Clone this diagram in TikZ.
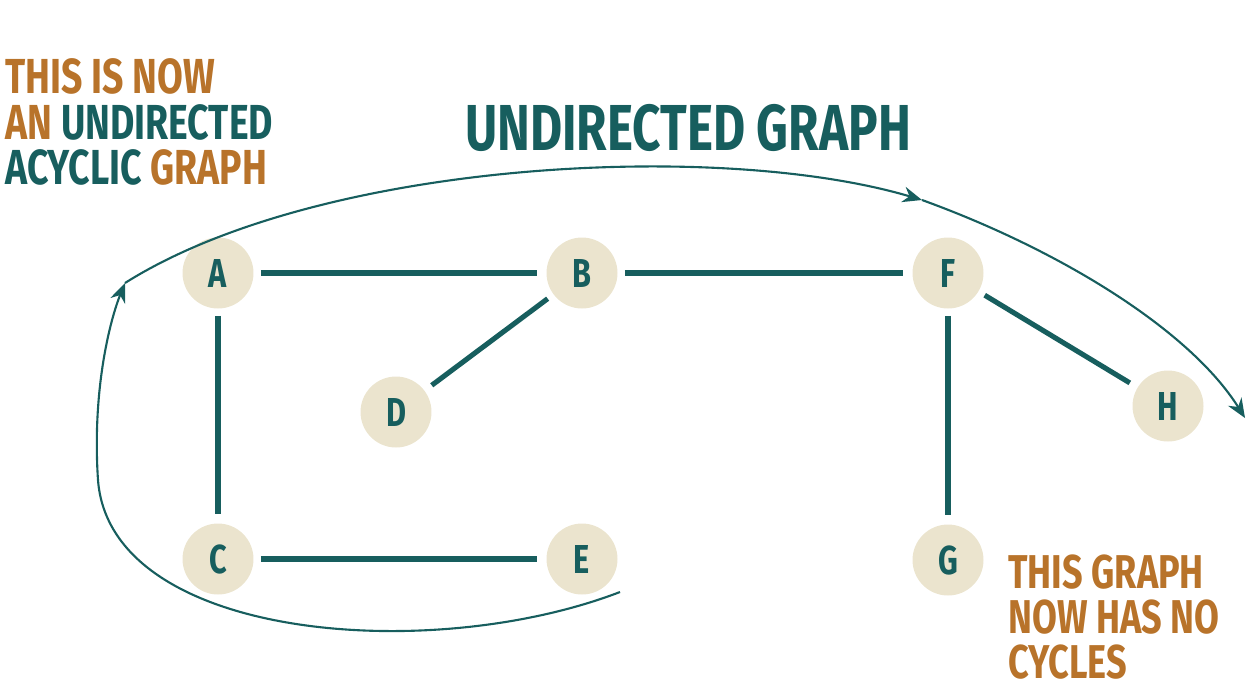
\documentclass[tikz,border=0pt]{standalone}
\usepackage{fontspec}
\newfontfamily\handfont[FakeStretch=0.76]{Fira Sans}
\usetikzlibrary{arrows.meta}
\definecolor{teal}{HTML}{175E5E}
\definecolor{rust}{HTML}{B8732A}
\definecolor{sand}{HTML}{EBE4CE}
\begin{document}
\begin{tikzpicture}[
    x=0.02cm, y=-0.02cm,
    vertex/.style={
      circle, fill=sand, minimum size=1.42cm, inner sep=0pt,
      text=teal, font=\handfont\bfseries\fontsize{23}{23}\selectfont
    },
    edge/.style={teal, line width=2.9pt, shorten <=4pt, shorten >=5pt},
    sweep/.style={teal, line width=1.2pt, -{Stealth[length=11pt,width=9pt]}},
    note/.style={anchor=base west, inner sep=0pt,
      font=\handfont\bfseries\fontsize{28}{28}\selectfont},
    sidenote/.style={note, text=rust,
      font=\handfont\bfseries\fontsize{27}{27}\selectfont},
]
\useasboundingbox (0,0) rectangle (1260,691);

% ===== TITLE =====
\node[text=teal, inner sep=0pt, font=\handfont\bfseries\fontsize{37}{37}\selectfont]
  (title) at (688,128) {UNDIRECTED GRAPH};

% ===== NOTES =====
\node[note, text=rust] (leftA) at (5,93) {THIS IS NOW};
\node[note] (leftB) at (5,139) {\textcolor{rust}{AN} \textcolor{teal}{UNDIRECTED}};
\node[note] (leftC) at (5,184) {\textcolor{teal}{ACYCLIC} \textcolor{rust}{GRAPH}};
\node[sidenote] (rightA) at (1008,588) {THIS GRAPH};
\node[sidenote] (rightB) at (1008,633) {NOW HAS NO};
\node[sidenote] (rightC) at (1008,678) {CYCLES};

% ===== VERTICES =====
\node[vertex] (A) at (218,273) {A};
\node[vertex] (B) at (582,273) {B};
\node[vertex] (F) at (948,273) {F};
\node[vertex] (D) at (396,412) {D};
\node[vertex] (H) at (1168,406) {H};
\node[vertex] (C) at (218,559) {C};
\node[vertex] (E) at (582,559) {E};
\node[vertex] (G) at (948,560) {G};

% ===== EDGES =====
\draw[edge] (A) -- (B);
\draw[edge] (B) -- (F);
\draw[edge] (B) -- (D);
\draw[edge] (F) -- (H);
\draw[edge] (F) -- (G);
\draw[edge] (A) -- (C);
\draw[edge] (C) -- (E);

% ===== SWEEP ARROW (around the graph) =====
\coordinate (s0) at (620,592);
\coordinate (s1) at (125,283);
\coordinate (s2) at (922,200);
\coordinate (s3) at (1245,418);
\draw[sweep] (s0) .. controls (430,665) and (110,640) .. (98,480)
  .. controls (92,390) and (110,320) .. (s1);
\draw[sweep] (s1) .. controls (320,160) and (720,140) .. (s2);
\draw[sweep] (s2) .. controls (1060,250) and (1190,330) .. (s3);

\end{tikzpicture}
\end{document}
